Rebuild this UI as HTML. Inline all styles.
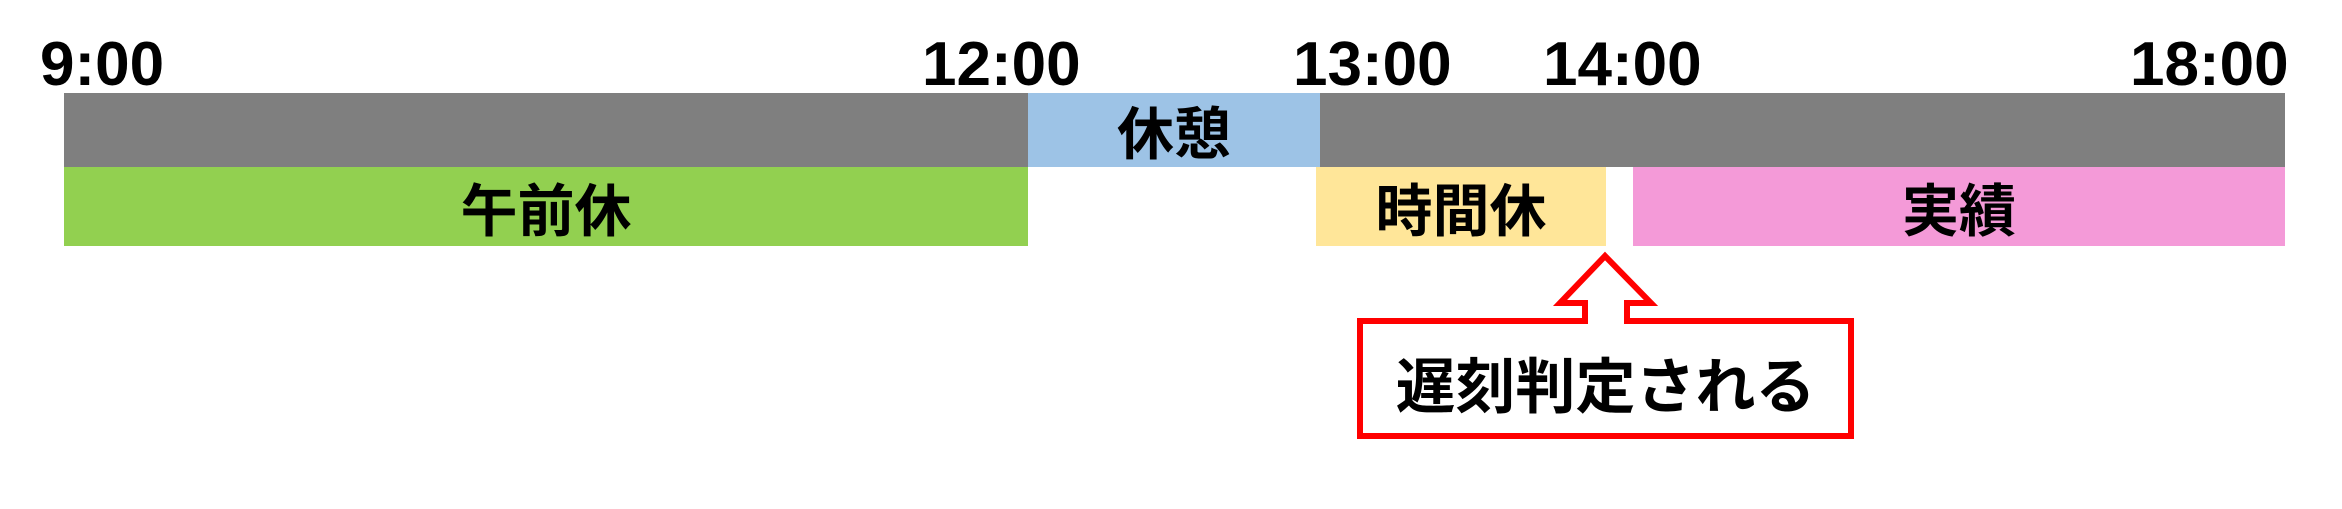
<!DOCTYPE html>
<html><head><meta charset="utf-8"><style>
html,body{margin:0;padding:0;background:#fff}
body{width:2342px;height:509px;position:relative;overflow:hidden;font-family:"Liberation Sans","Noto Sans CJK JP",sans-serif;font-weight:bold;color:#000}
.t{position:absolute;top:30px;font-size:62px;line-height:70px}
.b{position:absolute;display:flex;align-items:center;justify-content:center;font-size:57px}
</style></head><body>
<div class="t" style="left:40px">9:00</div>
<div class="t" style="left:922px">12:00</div>
<div class="t" style="left:1293px">13:00</div>
<div class="t" style="left:1543px">14:00</div>
<div class="t" style="left:2130px">18:00</div>
<div class="b" style="left:64px;top:93px;width:964px;height:74px;background:#7f7f7f"></div>
<div class="b" style="left:1028px;top:93px;width:292px;height:74px;background:#9dc3e6">休憩</div>
<div class="b" style="left:1320px;top:93px;width:965px;height:74px;background:#7f7f7f"></div>
<div class="b" style="left:64px;top:167px;width:964px;height:79px;background:#92d050">午前休</div>
<div class="b" style="left:1316px;top:167px;width:290px;height:79px;background:#ffe699">時間休</div>
<div class="b" style="left:1633px;top:167px;width:652px;height:79px;background:#f49ad8">実績</div>
<svg style="position:absolute;left:0;top:0" width="2342" height="509">
<path d="M1360,321 L1585,321 L1585,303 L1560,303 L1605,256 L1651,303 L1627,303 L1627,321 L1851,321 L1851,436 L1360,436 Z" fill="#fff" stroke="#ff0000" stroke-width="6"/>
</svg>
<div class="b" style="left:1360px;top:345px;width:491px;height:75px;font-size:60px">遅刻判定される</div>
</body></html>
